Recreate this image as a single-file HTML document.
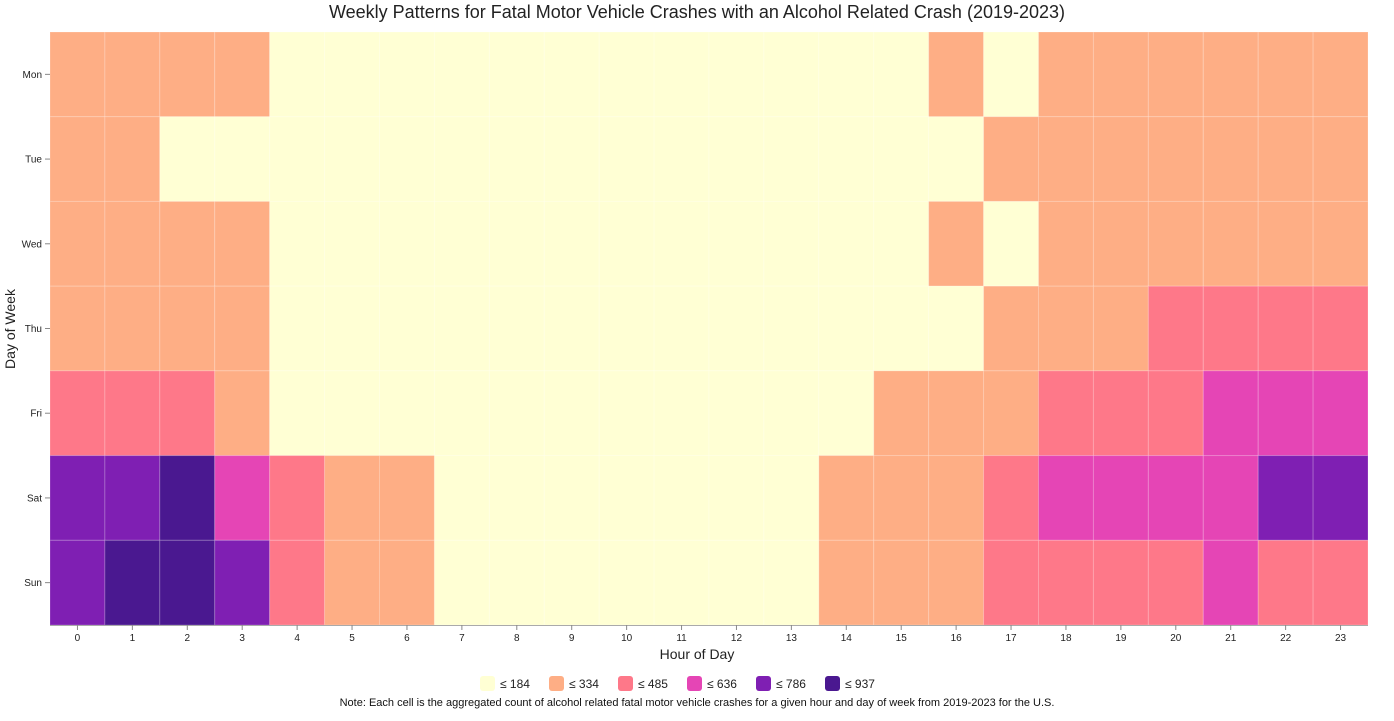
<!DOCTYPE html>
<html><head><meta charset="utf-8"><style>
html,body{margin:0;padding:0;background:#fff;}
svg{display:block;font-family:"Liberation Sans",Arial,sans-serif;}
</style></head><body>
<svg id="s" width="1394" height="721" viewBox="0 0 1394 721" xmlns="http://www.w3.org/2000/svg">
<text x="697" y="18" text-anchor="middle" font-size="18" fill="#222">Weekly Patterns for Fatal Motor Vehicle Crashes with an Alcohol Related Crash (2019-2023)</text>
<g id="cells"></g>
<g id="axes" font-size="10" fill="#222"></g>
<text x="697" y="659" text-anchor="middle" font-size="14" fill="#222">Hour of Day</text>
<text transform="translate(15,329) rotate(-90)" text-anchor="middle" font-size="14" fill="#222">Day of Week</text>
<g id="legend" font-size="12" fill="#222"></g>
<text x="697" y="706" text-anchor="middle" font-size="11" fill="#111">Note: Each cell is the aggregated count of alcohol related fatal motor vehicle crashes for a given hour and day of week from 2019-2023 for the U.S.</text>
</svg>
<script>
var C=["#ffffd4","#feae85","#fe7889","#e545b5","#7f1fb3","#4a1890"];
var L=["≤ 184","≤ 334","≤ 485","≤ 636","≤ 786","≤ 937"];
var D=[
"111100000000000010111111",
"110000000000000001111111",
"111100000000000010111111",
"111100000000000001112222",
"222100000000000111222333",
"445321100000001112333344",
"455421100000001112222322"];
var days=["Mon","Tue","Wed","Thu","Fri","Sat","Sun"];
var x0=50,x1=1368,y0=32,y1=625,cw=(x1-x0)/24,rh=(y1-y0)/7,ns="http://www.w3.org/2000/svg";
function el(t,a,p,txt){var e=document.createElementNS(ns,t);for(var k in a)e.setAttribute(k,a[k]);if(txt!=null)e.textContent=txt;p.appendChild(e);return e;}
var g=document.getElementById("cells"),ax=document.getElementById("axes"),lg=document.getElementById("legend");
for(var r=0;r<7;r++)for(var c=0;c<24;c++){
el("rect",{x:x0+c*cw,y:y0+r*rh,width:cw,height:rh,fill:C[+D[r][c]],stroke:"rgba(255,255,255,0.2)","stroke-width":1},g);}
el("line",{x1:x0,y1:y1+0.5,x2:x1,y2:y1+0.5,stroke:"#aaa","stroke-width":1},ax);
for(var c=0;c<24;c++){var cx=x0+(c+0.5)*cw;
el("line",{x1:cx,y1:y1,x2:cx,y2:y1+5,stroke:"#888"},ax);
el("text",{x:cx,y:y1+16,"text-anchor":"middle"},ax,String(c));}
for(var r=0;r<7;r++){var cy=y0+(r+0.5)*rh;
el("line",{x1:x0-5,y1:cy,x2:x0,y2:cy,stroke:"#888"},ax);
el("text",{x:x0-8,y:cy+3.5,"text-anchor":"end"},ax,days[r]);}
for(var i=0;i<6;i++){var lx=480+i*69;
el("rect",{x:lx,y:676,width:15,height:15,rx:3,fill:C[i]},lg);
el("text",{x:lx+20,y:688},lg,L[i]);}
</script>
</body></html>
